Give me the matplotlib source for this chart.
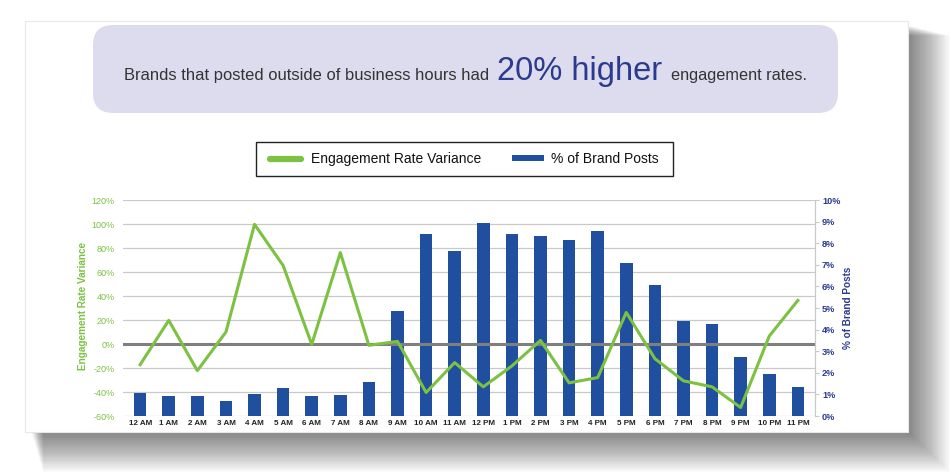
import matplotlib
matplotlib.use("Agg")
import matplotlib.pyplot as plt
from matplotlib.patches import Rectangle, FancyBboxPatch
from matplotlib.lines import Line2D
import numpy as np

plt.rcParams['font.family'] = ['Liberation Sans', 'DejaVu Sans']

hours = ["12 AM", "1 AM", "2 AM", "3 AM", "4 AM", "5 AM", "6 AM", "7 AM", "8 AM",
         "9 AM", "10 AM", "11 AM", "12 PM", "1 PM", "2 PM", "3 PM", "4 PM", "5 PM",
         "6 PM", "7 PM", "8 PM", "9 PM", "10 PM", "11 PM"]
brand_posts = [1.08, 0.93, 0.93, 0.69, 1.03, 1.30, 0.93, 0.96, 1.56, 4.88, 8.44, 7.64,
               8.94, 8.44, 8.32, 8.16, 8.58, 7.08, 6.06, 4.40, 4.27, 2.75, 1.96, 1.33]
engagement_var = [-17.2, 19.7, -22.2, 10.0, 99.7, 65.4, -0.3, 76.2, -1.1, 2.2, -40.4, -15.5,
                  -35.7, -18.3, 3.0, -32.4, -28.0, 26.3, -12.2, -30.7, -35.7, -52.9, 6.6, 36.3]
left_ticks = [-60, -40, -20, 0, 20, 40, 60, 80, 100, 120]
right_ticks = [0, 1, 2, 3, 4, 5, 6, 7, 8, 9, 10]

GREEN = "#7cc142"
BLUE = "#1f4f9e"
NAVY = "#2b3a8c"

W, H = 951, 474
fig = plt.figure(figsize=(W / 100, H / 100), dpi=100)

# background layer in pixel coordinates
bg = fig.add_axes([0, 0, 1, 1])
bg.set_xlim(0, W)
bg.set_ylim(H, 0)
bg.axis("off")

# soft drop shadow for the card
cx0, cy0, cx1, cy1 = 25, 21, 908, 432
for i in range(1, 36):
    bg.add_patch(Rectangle((cx0 + 6 + i * 0.35, cy0 + 4 + i * 0.3),
                           (cx1 - cx0 - 6) + i * 0.85, (cy1 - cy0 - 4) + i * 0.85,
                           facecolor="#000000", alpha=0.016, edgecolor="none", zorder=1))
bg.add_patch(Rectangle((cx0, cy0), cx1 - cx0, cy1 - cy0, facecolor="white",
                       edgecolor="#e8e8e8", lw=0.8, zorder=2))

# title box
bg.add_patch(FancyBboxPatch((93 + 20, 25 + 20), 745 - 40, 88 - 40,
                            boxstyle="round,pad=20", facecolor="#dcdcee",
                            edgecolor="none", zorder=3))
bg.text(124, 80, "Brands that posted outside of business hours had", fontsize=11.9,
        color="#333333", ha="left", va="baseline", zorder=4)
bg.text(497, 80, "20% higher", fontsize=23.5, color=NAVY, ha="left",
        va="baseline", zorder=4)
bg.text(671, 80, "engagement rates.", fontsize=11.7, color="#333333", ha="left",
        va="baseline", zorder=4)

# legend box
bg.add_patch(Rectangle((256, 142), 417, 34, facecolor="white", edgecolor="#222222",
                       lw=1.0, zorder=3))
bg.add_line(Line2D([270, 301], [158.5, 158.5], color=GREEN, lw=4.5,
                   solid_capstyle="round", zorder=4))
bg.text(311, 159, "Engagement Rate Variance", fontsize=10, color="#111111",
        ha="left", va="center", zorder=4)
bg.add_patch(Rectangle((512, 155), 32, 6, facecolor=BLUE, edgecolor="none", zorder=4))
bg.text(551, 159, "% of Brand Posts", fontsize=10, color="#111111",
        ha="left", va="center", zorder=4)

# main chart axes
ax_l, ax_r, ax_t, ax_b = 123, 815, 200, 416
ax = fig.add_axes([ax_l / W, 1 - ax_b / H, (ax_r - ax_l) / W, (ax_b - ax_t) / H])
ax2 = ax.twinx()

x = np.arange(len(hours))
ax2.bar(x, brand_posts, width=0.44, color=BLUE, zorder=2)
ax2.set_ylim(0, 10)
ax2.set_yticks(right_ticks)
ax2.set_yticklabels([f"{t}%" for t in right_ticks])

ax.set_ylim(-60, 120)
ax.set_yticks(left_ticks)
ax.set_yticklabels([f"{t}%" for t in left_ticks])
ax.set_xlim(-0.6, len(hours) - 0.4)
ax.set_xticks(x)
ax.set_xticklabels(hours)

ax.set_zorder(1)
ax2.set_zorder(2)
ax2.patch.set_alpha(0)
for t in left_ticks:
    if t == 0:
        continue
    ax.axhline(t, color="#c9c9c9", lw=0.9, zorder=0)

# overlay for the zero line and the engagement line
ax3 = fig.add_axes(ax.get_position(), sharex=ax)
ax3.set_ylim(-60, 120)
ax3.patch.set_alpha(0)
ax3.set_zorder(3)
ax3.axhline(0, color="#7f7f7f", lw=2.2, zorder=1)
ax3.plot(x, engagement_var, color=GREEN, lw=2.2, zorder=2)
ax3.axis("off")

for a in (ax, ax2):
    for s in ("top", "left", "bottom"):
        a.spines[s].set_visible(False)
ax.spines["right"].set_visible(False)
ax2.spines["right"].set_color("#c9c9c9")
ax2.spines["right"].set_linewidth(0.9)

ax.tick_params(axis="y", length=0, pad=6, labelsize=6.5, labelcolor=GREEN)
ax.tick_params(axis="x", length=0, pad=3, labelsize=5.8, labelcolor="#222222")
for lab in ax.get_xticklabels():
    lab.set_fontweight("bold")
ax2.tick_params(axis="y", length=3, width=0.8, color="#c9c9c9", pad=2,
                labelsize=6.6, labelcolor=NAVY)
for lab in ax2.get_yticklabels():
    lab.set_fontweight("bold")

bg.text(83, 306, "Engagement Rate Variance", rotation=90, fontsize=7.2, color=GREEN,
        fontweight="bold", ha="center", va="center", zorder=4)
bg.text(848, 308, "% of Brand Posts", rotation=90, fontsize=7.2, color=NAVY,
        fontweight="bold", ha="center", va="center", zorder=4)

fig.savefig("out.png", dpi=100)
